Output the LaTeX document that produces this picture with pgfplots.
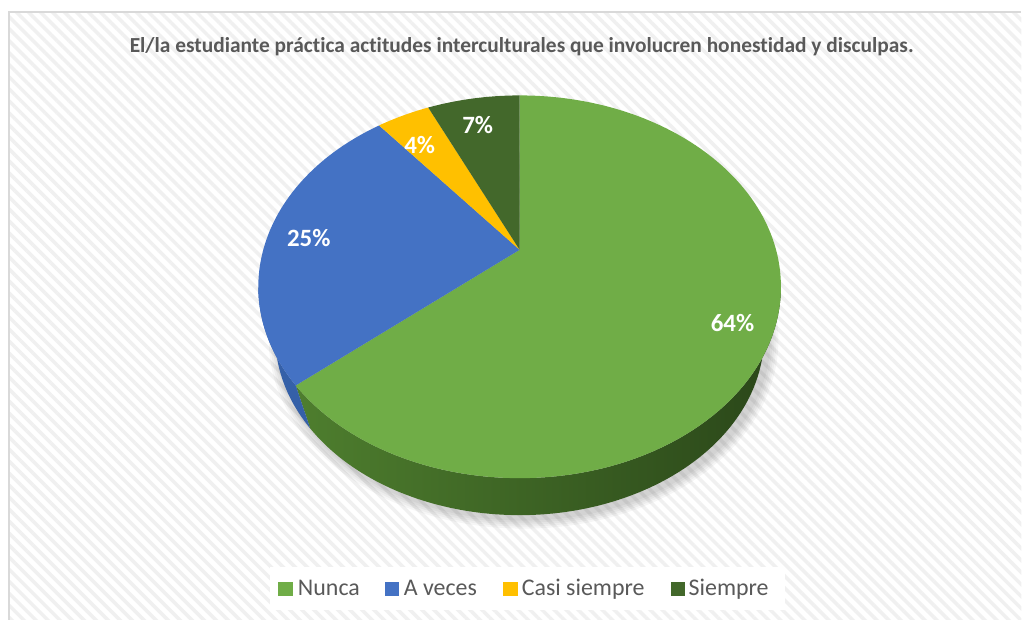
\documentclass[border=0pt]{standalone}
\usepackage{pgfplots}
\pgfplotsset{compat=1.18}
\usepackage{pgfplotstable}
\usepackage{fontspec}
\setmainfont{Carlito}[Ligatures={NoCommon}]
\usetikzlibrary{patterns.meta}

\definecolor{colA}{HTML}{70AD47}
\definecolor{colB}{HTML}{4472C4}
\definecolor{colC}{HTML}{FFC000}
\definecolor{colD}{HTML}{43682B}
\definecolor{sideL}{HTML}{4E7E2E}
\definecolor{sideM}{HTML}{385C21}
\definecolor{sideR}{HTML}{2A4619}
\definecolor{sideBlue}{HTML}{3560A8}
\definecolor{txtgray}{HTML}{595959}
\definecolor{framegray}{HTML}{D9D9D9}

\tikzset{
  sideA/.style={left color=sideL, middle color=sideM, right color=sideR},
  sideB/.style={fill=sideBlue},
  sideC/.style={fill=colC!70!black},
  sideD/.style={fill=colD!70!black},
}

% share of each answer, in percent
\pgfplotstableread{
label value
Nunca 64
{A veces} 25
{Casi siempre} 4
Siempre 7
}\piedata

% top face: centre (520,333), radii 261.5 x 191.5, apex (520,370)
% bottom face: centre (520,283.6), radii 244.6 x 179.1
\pgfmathsetmacro\pe{37/191.5}
\newcommand\projang[2]{%
  \pgfmathsetmacro\pc{cos(#1)}%
  \pgfmathsetmacro\pd{sin(#1)}%
  \pgfmathsetmacro\ps{-\pe*\pd+sqrt(\pe*\pe*\pd*\pd-\pe*\pe+1)}%
  \pgfmathsetmacro\pjt{atan2(\pe+\pd*\ps,\pc*\ps)}%
  \global\let#2\pjt}

\begin{document}
\begin{tikzpicture}
\gdef\cum{0}
\foreach \i/\L in {0/A,1/B,2/C,3/D}{
  \pgfplotstablegetelem{\i}{value}\of\piedata
  \projang{90-3.6*\cum}\ta
  \pgfmathsetmacro\newcum{\cum+\pgfplotsretval}
  \xdef\cum{\newcum}
  \projang{90-3.6*\cum}\tb
  \pgfmathparse{\tb>\ta ? \tb-360 : \tb}\xdef\tb{\pgfmathresult}
  \expandafter\xdef\csname ts\L\endcsname{\ta}
  \expandafter\xdef\csname te\L\endcsname{\tb}
  \pgfmathsetmacro\lo{max(\tb,-180)}
  \pgfmathsetmacro\hi{min(\ta,0)}
  \expandafter\xdef\csname lo\L\endcsname{\lo}
  \expandafter\xdef\csname hi\L\endcsname{\hi}
}
\begin{axis}[
  width=1022bp, height=620bp, scale only axis,
  xmin=0, xmax=1022, ymin=0, ymax=620,
  hide axis, clip=false,
]
% background and frame
\fill[white] (axis cs:0,0) rectangle (axis cs:1022,620);
\fill[pattern={Lines[angle=-45,distance=8.5bp,line width=3.5bp]}, pattern color=black!6]
  (axis cs:9,0) rectangle (axis cs:1022,608);
\draw[framegray, line width=1.5bp] (axis cs:9,0) -- (axis cs:9,608) -- (axis cs:1022,608);

% soft shadow
\foreach \k in {1,2,3,4,5}{
  \edef\temp{\noexpand\fill[black, opacity=0.035]
    (axis cs:524,280) ellipse[x radius=\the\numexpr245+\k*2\relax bp, y radius=\the\numexpr179+\k*2\relax bp];}
  \temp
}

% sides
\foreach \L in {A,B,C,D}{
  \ifdim\csname lo\L\endcsname pt<\csname hi\L\endcsname pt
    \edef\temp{\noexpand\path[side\L]
      ([shift={(\csname hi\L\endcsname:261.5bp and 191.5bp)}]axis cs:520,333)
      arc[start angle=\csname hi\L\endcsname, end angle=\csname lo\L\endcsname, x radius=261.5bp, y radius=191.5bp]
      -- ([shift={(\csname lo\L\endcsname:244.6bp and 179.1bp)}]axis cs:520,283.6)
      arc[start angle=\csname lo\L\endcsname, end angle=\csname hi\L\endcsname, x radius=244.6bp, y radius=179.1bp]
      -- cycle;}
    \temp
  \fi
}

% top faces
\foreach \L in {A,B,C,D}{
  \edef\temp{\noexpand\fill[col\L] (axis cs:520,370)
    -- ([shift={(\csname ts\L\endcsname:261.5bp and 191.5bp)}]axis cs:520,333)
    arc[start angle=\csname ts\L\endcsname, end angle=\csname te\L\endcsname, x radius=261.5bp, y radius=191.5bp]
    -- cycle;}
  \temp
}

% data labels
\begin{scope}[every node/.style={text=white, font=\bfseries\fontsize{25}{29}\selectfont}]
\node at (axis cs:733,297) {64\%};
\node at (axis cs:309,382) {25\%};
\node at (axis cs:420,475) {4\%};
\node at (axis cs:478,495) {7\%};
\end{scope}

% title
\node[text=txtgray, font=\bfseries\fontsize{21.5}{25}\selectfont] at (axis cs:522,573)
  {El/la estudiante práctica actitudes interculturales que involucren honestidad y disculpas.};

% legend
\fill[white] (axis cs:270,10) rectangle (axis cs:786,53);
\begin{scope}[every node/.style={text=txtgray, anchor=base west, inner sep=0pt, font=\fontsize{24}{28}\selectfont}]
\fill[colA] (axis cs:278,24) rectangle (axis cs:293,38);
\node at (axis cs:298,24) {Nunca};
\fill[colB] (axis cs:385,24) rectangle (axis cs:399,38);
\node at (axis cs:404,24) {A veces};
\fill[colC] (axis cs:503,24) rectangle (axis cs:518,38);
\node at (axis cs:522,24) {Casi siempre};
\fill[colD] (axis cs:671,24) rectangle (axis cs:685,38);
\node at (axis cs:689,24) {Siempre};
\end{scope}
\end{axis}
\end{tikzpicture}
\end{document}
